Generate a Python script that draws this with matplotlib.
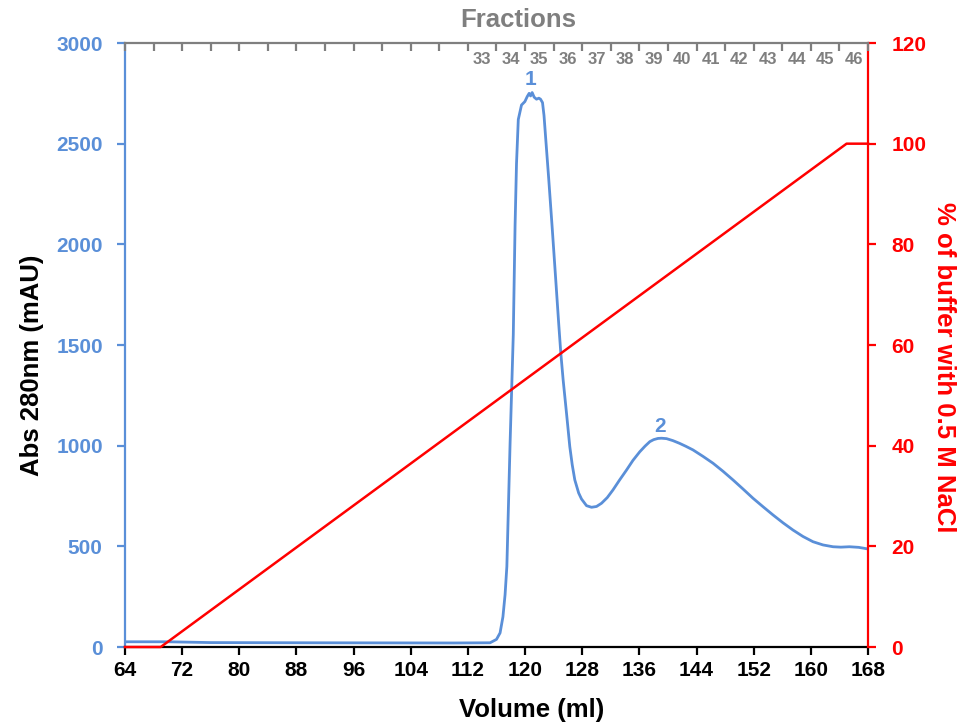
import matplotlib
matplotlib.use("Agg")
import matplotlib.pyplot as plt
from matplotlib.ticker import FixedLocator, MultipleLocator

# UV absorbance trace (mAU) against elution volume (ml)
volume_ml = [64, 70, 76, 90, 110, 115.1, 116.0, 116.5, 116.9, 117.2, 117.45,
             117.9, 118.35, 118.6, 118.8, 119.05, 119.5, 119.97, 120.3, 120.57,
             120.77, 120.99, 121.27, 121.6, 121.93, 122.16, 122.44, 122.65,
             122.9, 123.3, 123.8, 124.3, 124.7, 125.0, 125.33, 125.8, 126.26,
             126.6, 126.96, 127.5, 127.9, 128.6, 129.3, 130.0, 130.7, 131.5,
             132.3, 133.2, 134.2, 135.1, 136.06, 136.8, 137.46, 138.0, 138.6,
             139.1, 139.8, 140.7, 141.6, 142.5, 143.5, 144.9, 146.3, 147.7,
             149.1, 150.5, 151.9, 153.3, 154.7, 156.1, 157.5, 158.9, 160.3,
             161.7, 163.1, 164.2, 165.4, 166.7, 168]
abs_280 = [26, 26, 22, 21, 20, 21, 38, 70, 150, 260, 400,
           1010, 1552, 2094, 2400, 2620, 2692, 2709, 2734, 2750,
           2737, 2754, 2731, 2721, 2726, 2721, 2704, 2640,
           2520, 2330, 2080, 1820, 1610, 1460, 1326, 1161, 995,
           905, 830, 765, 735, 702, 694, 698, 714, 742,
           780, 828, 879, 927, 970, 998, 1020, 1030, 1036,
           1037, 1035, 1025, 1012, 997, 979, 947, 913, 873,
           830, 785, 739, 697, 656, 617, 581, 549, 523,
           507, 498, 496, 498, 495, 487]

# Salt gradient: % of buffer B (0.5 M NaCl)
gradient_ml = [64, 69, 165, 168]
gradient_pct = [0, 0, 100, 100]

# Collected fractions (4 ml each)
fraction_edges = list(range(64, 169, 4))
fraction_numbers = list(range(33, 47))
fraction_first_start = 112

# Peak annotations: (label, volume, absorbance)
peak_labels = [("1", 120.8, 2817), ("2", 138.9, 1094)]

BLUE = "#5A8FD8"
RED = "#FF0000"
GRAY = "#7F7F7F"

plt.rcParams['font.family'] = ['Liberation Sans', 'DejaVu Sans']
plt.rcParams['font.weight'] = 'bold'

fig = plt.figure(figsize=(9.63, 7.26), dpi=100)
ax = fig.add_axes([0.1298, 0.1088, 0.77155, 0.83196])

ax.plot(volume_ml, abs_280, color=BLUE, lw=2.0, solid_joinstyle='round', zorder=3)
for text, xv, yv in peak_labels:
    ax.text(xv, yv, text, color=BLUE, fontsize=15, fontweight='bold',
            ha='center', va='center')

ax.set_xlim(64, 168)
ax.set_ylim(0, 3000)
ax.xaxis.set_major_locator(MultipleLocator(8))
ax.yaxis.set_major_locator(MultipleLocator(500))

for side in ('top', 'right'):
    ax.spines[side].set_visible(False)
ax.spines['left'].set_color(BLUE)
ax.spines['left'].set_linewidth(1.6)
ax.spines['bottom'].set_color('black')
ax.spines['bottom'].set_linewidth(1.6)

ax.tick_params(axis='x', direction='out', length=6, width=1.6, color='black',
               labelcolor='black', labelsize=15, pad=4)
ax.tick_params(axis='y', direction='out', length=6, width=1.6, color=BLUE,
               labelcolor=BLUE, labelsize=15, pad=10)

ax.set_xlabel("Volume (ml)", fontsize=18.5, fontweight='bold', color='black')
ax.xaxis.set_label_coords(0.547, -0.104)
ax.xaxis.label.set_va('center')
ax.set_ylabel("Abs 280nm (mAU)", fontsize=18.5, fontweight='bold', color='black')
ax.yaxis.set_label_coords(-0.125, 0.467)
ax.yaxis.label.set_va('center')

# Right axis: gradient
ax2 = ax.twinx()
ax2.plot(gradient_ml, gradient_pct, color=RED, lw=1.8, clip_on=False, zorder=4)
ax2.set_ylim(0, 120)
ax2.yaxis.set_major_locator(MultipleLocator(20))
for side in ('top', 'left', 'bottom'):
    ax2.spines[side].set_visible(False)
ax2.spines['right'].set_color(RED)
ax2.spines['right'].set_linewidth(1.6)
ax2.tick_params(axis='y', direction='out', length=6, width=1.6, color=RED,
                labelcolor=RED, labelsize=15, pad=11)
ax2.set_ylabel("% of buffer with 0.5 M NaCl", fontsize=18.5, fontweight='bold',
               color=RED, rotation=270)
ax2.yaxis.set_label_coords(1.102, 0.464)
ax2.yaxis.label.set_va('center')

# Top axis: fractions
ax3 = ax.twiny()
ax3.set_xlim(64, 168)
for side in ('bottom', 'left', 'right'):
    ax3.spines[side].set_visible(False)
ax3.spines['top'].set_color(GRAY)
ax3.spines['top'].set_linewidth(1.6)
ax3.xaxis.set_major_locator(FixedLocator(fraction_edges))
ax3.xaxis.set_major_formatter(plt.NullFormatter())
centers = [fraction_first_start + 4 * i + 2 for i in range(len(fraction_numbers))]
ax3.xaxis.set_minor_locator(FixedLocator(centers))
ax3.xaxis.set_minor_formatter(plt.FixedFormatter([str(n) for n in fraction_numbers]))
ax3.tick_params(axis='x', which='major', direction='in', length=6, width=1.6,
                color=GRAY)
ax3.tick_params(axis='x', which='minor', length=0, labelcolor=GRAY,
                labelsize=12, pad=-17.5)
for lbl in ax3.xaxis.get_minorticklabels():
    lbl.set_fontweight('bold')
ax3.set_xlabel("Fractions", fontsize=18.5, fontweight='bold', color=GRAY)
ax3.xaxis.set_label_coords(0.529, 1.038)
ax3.xaxis.label.set_va('center')

fig.savefig("out.png", dpi=100)
